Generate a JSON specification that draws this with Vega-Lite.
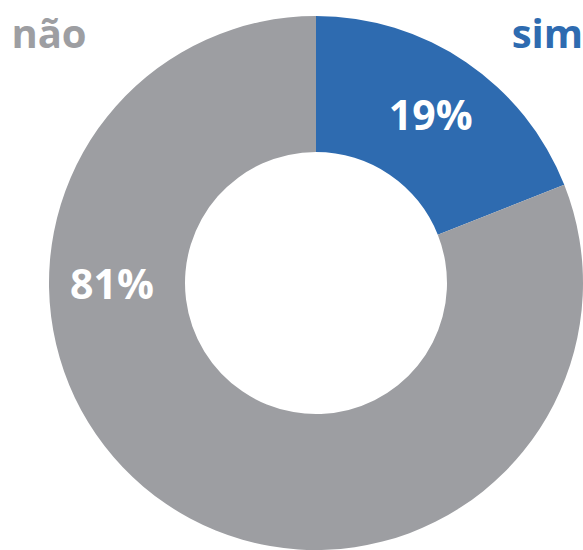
{
  "$schema": "https://vega.github.io/schema/vega-lite/v6.json",
  "width": 534,
  "height": 534,
  "autosize": "none",
  "padding": {"left": 49, "top": 16, "right": 0, "bottom": 0},
  "background": "white",
  "config": {"view": {"stroke": null}},
  "data": {"values": [
    {"resposta": "sim", "pct": 0.19},
    {"resposta": "não", "pct": 0.81}
  ]},
  "layer": [
    {
      "mark": {"type": "arc", "outerRadius": 267, "innerRadius": 131},
      "encoding": {
        "theta": {"field": "pct", "type": "quantitative", "stack": true},
        "order": {"field": "pct", "sort": "ascending"},
        "color": {"field": "resposta", "type": "nominal", "scale": {"domain": ["sim", "não"], "range": ["#2e6bb0", "#9d9ea2"]}, "legend": null}
      }
    },
    {
      "mark": {"type": "text", "radius": 204, "font": "Open Sans", "fontWeight": "bold", "fontSize": 41, "fill": "white", "align": "center", "baseline": "middle", "dy": 4},
      "encoding": {
        "theta": {"field": "pct", "type": "quantitative", "stack": true, "scale": {"range": [-0.185, 8.046]}},
        "order": {"field": "pct", "sort": "ascending"},
        "text": {"field": "pct", "type": "quantitative", "format": ".0%"}
      }
    },
    {
      "mark": {"type": "text", "font": "Open Sans", "fontWeight": "bold", "fontSize": 40, "baseline": "top", "align": {"expr": "datum.resposta === 'sim' ? 'right' : 'center'"}},
      "encoding": {
        "x": {"field": "resposta", "type": "nominal", "scale": {"type": "point", "domain": ["não", "sim"], "padding": 0}, "axis": null},
        "y": {"datum": 1, "type": "quantitative", "scale": {"domain": [0, 1]}, "axis": null},
        "color": {"field": "resposta", "type": "nominal", "legend": null},
        "text": {"field": "resposta", "type": "nominal"}
      }
    }
  ],
  "resolve": {"scale": {"theta": "independent"}}
}
